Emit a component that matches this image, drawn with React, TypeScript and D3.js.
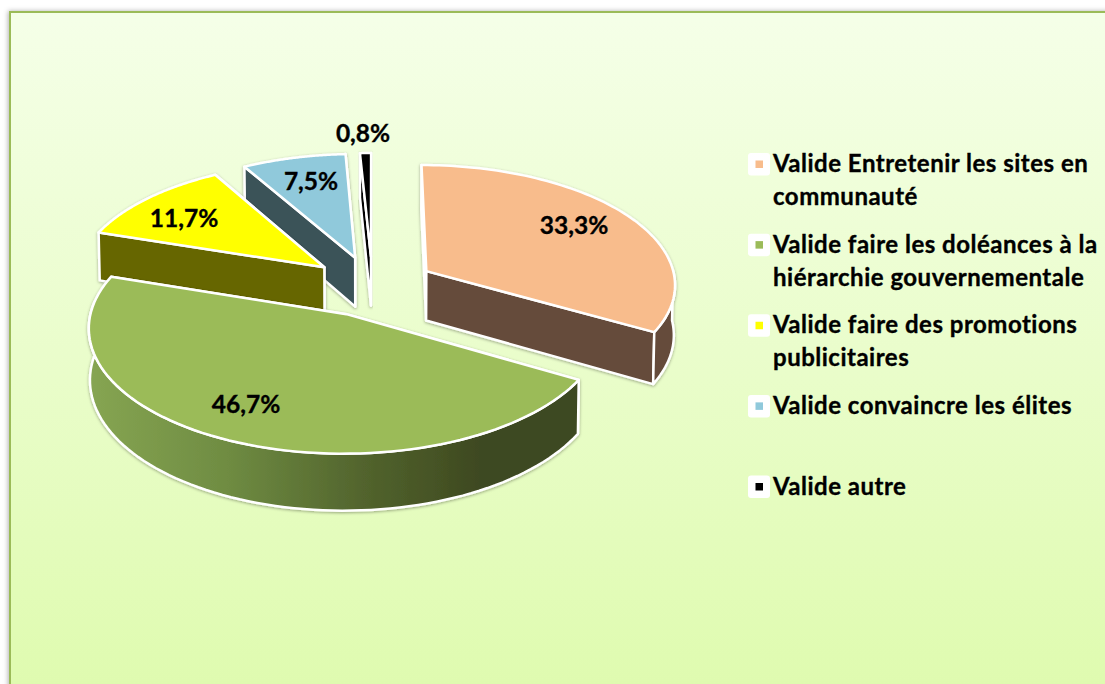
import React from "react";
import * as d3 from "d3";

const categories = [
  "Valide Entretenir les sites en communauté",
  "Valide faire les doléances à la hiérarchie gouvernementale",
  "Valide faire des promotions publicitaires",
  "Valide convaincre les élites",
  "Valide autre",
];
const legendLines = [
  ["Valide Entretenir les sites en", "communauté"],
  ["Valide faire les doléances à la", "hiérarchie gouvernementale"],
  ["Valide faire des promotions", "publicitaires"],
  ["Valide convaincre les élites"],
  ["Valide autre"],
];
const values = [33.3, 46.7, 11.7, 7.5, 0.8];
const labels = ["33,3%", "46,7%", "11,7%", "7,5%", "0,8%"];
const topColors = ["#F8BC8C", "#9BBB59", "#FFFF00", "#90C9DB", "#000000"];
const sideColors = ["#654B3A", "url(#greenRim)", "#666600", "#3B5259", "#000000"];

// layout only
const W = 1105, H = 684;
const CX = 372.5, CY = 286, R = 250, SQUASH = 0.478, PERSP = 0.1, EXPLODE = 63, DEPTH = 50, BOTTOM_SHRINK = 0.996;
const labelAnchors: [number, number][] = [[574, 234], [246, 413], [184, 227], [311, 190], [363, 142]];
const FONT = "Lato, Carlito, sans-serif";

function project(xw: number, yw: number, z: number): [number, number] {
  const s = 1 / (1 - (PERSP * yw) / R);
  const f = z ? BOTTOM_SHRINK : 1;
  return [CX + xw * s * f, CY + SQUASH * yw * s + z * DEPTH * s];
}

const arcs = d3.pie<number>().sort(null).startAngle(0).endAngle(2 * Math.PI)(values);
const line = d3.line();

const slices = arcs.map((a, i) => {
  const mid = (a.startAngle + a.endAngle) / 2;
  const ox = EXPLODE * Math.sin(mid);
  const oy = -EXPLODE * Math.cos(mid);
  const rim = (t: number, z: number) => project(ox + R * Math.sin(t), oy - R * Math.cos(t), z);
  const apex = (z: number) => project(ox, oy, z);
  const sample = (t0: number, t1: number, z: number) => {
    const sc = d3.scaleLinear().domain([0, 80]).range([t0, t1]);
    return d3.range(81).map((k) => rim(sc(k), z));
  };
  const top = line([apex(0), ...sample(a.startAngle, a.endAngle, 0)])! + "Z";
  const wall = (t: number) => line([apex(0), rim(t, 0), rim(t, 1), apex(1)])! + "Z";
  const t0 = Math.max(a.startAngle, Math.PI / 2);
  const t1 = Math.min(a.endAngle, (3 * Math.PI) / 2 + 0.1);
  const rimPath =
    t1 > t0 ? line([...sample(t0, t1, 0), ...sample(t1, t0, 1)])! + "Z" : null;
  // far wall first, so a back-facing wall never shows over the near one
  const walls = d3.sort([a.startAngle, a.endAngle], (t) => -Math.cos(t)).map(wall);
  return { i, oy, top, walls, rimPath };
});
const painter = d3.sort(slices, (s) => s.oy);

const legendY = d3.scaleLinear().domain([0, 4]).range([153, 475.5]);

export default function App() {
  return (
    <svg
      width={W}
      height={H}
      viewBox={`0 0 ${W} ${H}`}
      style={{ position: "absolute", left: 0, top: 0, display: "block" }}
    >
      <defs>
        <linearGradient id="bg" x1="0" y1="0" x2="0" y2="1">
          <stop offset="0" stopColor="#F5FFE8" />
          <stop offset="1" stopColor="#DEFBAD" />
        </linearGradient>
        <linearGradient id="greenRim" gradientUnits="userSpaceOnUse" x1="90" y1="0" x2="480" y2="0">
          <stop offset="0" stopColor="#86A552" />
          <stop offset="0.35" stopColor="#6F8C42" />
          <stop offset="0.7" stopColor="#52642D" />
          <stop offset="1" stopColor="#3E4920" />
        </linearGradient>
        <filter id="panelShadow" x="-2%" y="-2%" width="104%" height="104%">
          <feDropShadow dx="-1" dy="0" stdDeviation="2.5" floodColor="#000" floodOpacity="0.3" />
        </filter>
        <filter id="sliceShadow" x="-10%" y="-10%" width="120%" height="120%">
          <feDropShadow dx="0" dy="1" stdDeviation="1.5" floodColor="#000" floodOpacity="0.35" />
        </filter>
      </defs>
      <rect width={W} height={H} fill="#FFFFFF" />
      <rect
        x={10}
        y={12}
        width={W + 20}
        height={H + 20}
        fill="url(#bg)"
        stroke="#9BBB59"
        strokeWidth={2}
        filter="url(#panelShadow)"
      />
      {painter.map((s) => (
        <g key={s.i} stroke="#FFFFFF" strokeWidth={2.5} strokeLinejoin="round" filter="url(#sliceShadow)">
          {s.walls.map((d, j) => (
            <path key={j} d={d} fill={s.i === 1 ? "#3E4920" : sideColors[s.i]} />
          ))}
          {s.rimPath && <path d={s.rimPath} fill={sideColors[s.i]} />}
          <path d={s.top} fill={topColors[s.i]} />
        </g>
      ))}
      <g fontFamily={FONT} fontWeight={700} fontSize={24.5} fill="#000" stroke="#000" strokeWidth={0.35} textAnchor="middle">
        {labels.map((t, i) => (
          <text key={t} x={labelAnchors[i][0]} y={labelAnchors[i][1]}>
            {t}
          </text>
        ))}
      </g>
      <g fontFamily={FONT} fontWeight={700} fontSize={24} letterSpacing={0.5} fill="#000" stroke="#000" strokeWidth={0.35}>
        {categories.map((c, i) => {
          const y = legendY(i);
          return (
            <g key={c}>
              <rect x={748} y={y} width={22} height={22.5} rx={3} fill="#FFFFFF" stroke="none" />
              <rect x={755.5} y={y + 7.5} width={7.5} height={7.5} fill={topColors[i]} stroke="none" />
              {legendLines[i].map((l, j) => (
                <text key={l} x={773} y={y + 19.2 + j * 33}>
                  {l}
                </text>
              ))}
            </g>
          );
        })}
      </g>
    </svg>
  );
}
